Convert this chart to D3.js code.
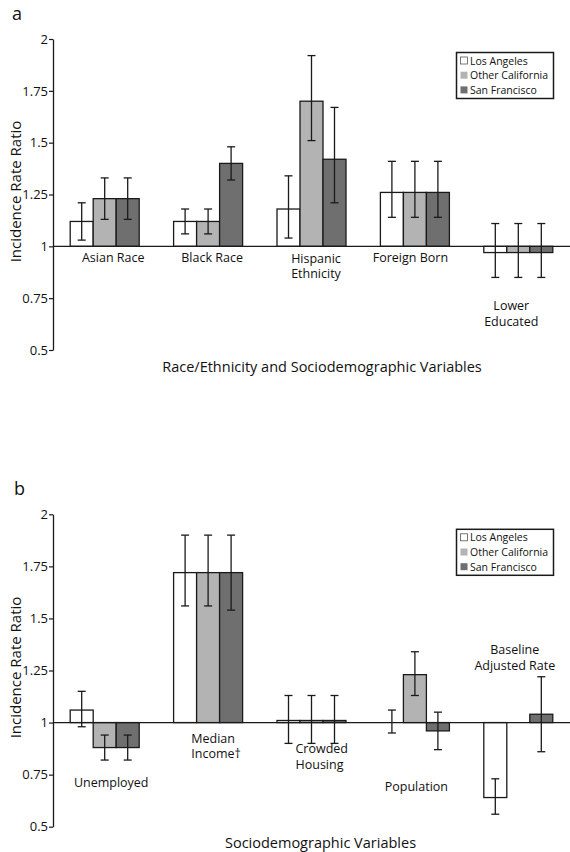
<!DOCTYPE html>
<html><head><meta charset="utf-8">
<script src="https://cdn.jsdelivr.net/npm/d3@7"></script>
<style>
body{margin:0;background:#fff;}
svg text{font-family:"Open Sans",sans-serif;fill:#111;}
</style></head>
<body>
<svg id="chart" width="570" height="852"></svg>
<script>
// ---- data ----
const seriesNames = ["Los Angeles","Other California","San Francisco"];
const seriesColors = ["#ffffff","#b3b3b3","#6f6f6f"];
const yTicks = [0.5,0.75,1,1.25,1.5,1.75,2];
const yTickLabels = ["0.5","0.75","1","1.25","1.5","1.75","2"];

// Panel a
const catsA = ["Asian Race","Black Race","Hispanic Ethnicity","Foreign Born","Lower Educated"];
const laA   = [1.12,1.12,1.18,1.26,0.97];
const ocA   = [1.23,1.12,1.70,1.26,0.97];
const sfA   = [1.23,1.40,1.42,1.26,0.97];
const laLoA = [1.03,1.06,1.04,1.14,0.85];
const laHiA = [1.21,1.18,1.34,1.41,1.11];
const ocLoA = [1.13,1.06,1.51,1.14,0.85];
const ocHiA = [1.33,1.18,1.92,1.41,1.11];
const sfLoA = [1.13,1.32,1.21,1.14,0.85];
const sfHiA = [1.33,1.48,1.67,1.41,1.11];

// Panel b
const catsB = ["Unemployed","Median Income†","Crowded Housing","Population","Baseline Adjusted Rate"];
const laB   = [1.06,1.72,1.01,1.00,0.64];
const ocB   = [0.88,1.72,1.01,1.23,null];
const sfB   = [0.88,1.72,1.01,0.96,1.04];
const laLoB = [0.98,1.56,0.90,0.95,0.56];
const laHiB = [1.15,1.90,1.13,1.06,0.73];
const ocLoB = [0.82,1.56,0.90,1.13,null];
const ocHiB = [0.94,1.90,1.13,1.34,null];
const sfLoB = [0.82,1.54,0.90,0.87,0.86];
const sfHiB = [0.94,1.90,1.13,1.05,1.22];

// ---- drawing ----
const svg = d3.select("#chart");
const INK = "#1a1a1a";

function drawPanel(cfg){
  const g = svg.append("g");
  const y = d3.scaleLinear().domain([0.5,2]).range([cfg.bottom, cfg.top]);
  const x0 = d3.scaleBand().domain(cfg.cats).range([53,570]).padding(0);
  const groupW = 69;
  const x1 = d3.scaleBand().domain(seriesNames).range([0,groupW]).padding(0);
  const vals = [cfg.la, cfg.oc, cfg.sf];
  const lo = [cfg.laLo, cfg.ocLo, cfg.sfLo];
  const hi = [cfg.laHi, cfg.ocHi, cfg.sfHi];

  // panel letter
  g.append("text").attr("x", cfg.letterX).attr("y", cfg.letterY)
    .style("font-size","18px").text(cfg.letter);

  // y axis
  const ax = g.append("g").attr("transform","translate(53,0)")
    .call(d3.axisLeft(y).tickValues(yTicks).tickSize(4).tickSizeOuter(0).tickPadding(1)
      .tickFormat((d,i)=>yTickLabels[i]));
  ax.select(".domain").attr("stroke",INK).attr("stroke-width",1.3);
  ax.selectAll(".tick line").attr("stroke",INK).attr("stroke-width",1.2);
  ax.selectAll(".tick text").style("font-size","13px").style("font-family","'Open Sans',sans-serif").attr("fill","#111");

  g.append("text")
    .attr("transform",`translate(15,${(cfg.top+cfg.bottom)/2 - 3}) rotate(-90)`)
    .attr("text-anchor","middle").attr("dominant-baseline","central")
    .style("font-size","15px").text("Incidence Rate Ratio");

  // bars
  const base = y(1);
  cfg.cats.forEach((c,ci)=>{
    const gx = x0(c) + x0.bandwidth()/2 - groupW/2;
    seriesNames.forEach((s,si)=>{
      const v = vals[si][ci];
      if(v==null) return;
      const bx = gx + x1(s);
      g.append("rect").attr("x",bx).attr("width",x1.bandwidth())
        .attr("y",Math.min(y(v),base)).attr("height",Math.abs(y(v)-base))
        .attr("fill",seriesColors[si]).attr("stroke",INK).attr("stroke-width",1.3);
    });
  });
  // baseline
  g.append("line").attr("x1",53).attr("x2",570).attr("y1",base).attr("y2",base)
    .attr("stroke",INK).attr("stroke-width",1.3);
  // error bars
  cfg.cats.forEach((c,ci)=>{
    const gx = x0(c) + x0.bandwidth()/2 - groupW/2;
    seriesNames.forEach((s,si)=>{
      const l = lo[si][ci], h = hi[si][ci];
      if(l==null||h==null) return;
      const cx = gx + x1(s) + x1.bandwidth()/2;
      const eb = g.append("g").attr("stroke",INK).attr("stroke-width",1.3);
      eb.append("line").attr("x1",cx).attr("x2",cx).attr("y1",y(l)).attr("y2",y(h));
      eb.append("line").attr("x1",cx-4).attr("x2",cx+4).attr("y1",y(l)).attr("y2",y(l));
      eb.append("line").attr("x1",cx-4).attr("x2",cx+4).attr("y1",y(h)).attr("y2",y(h));
    });
  });

  // category labels
  cfg.cats.forEach((c,ci)=>{
    const L = cfg.labelLayout[ci];
    const cx = x0(c) + x0.bandwidth()/2 + L.dx;
    const t = g.append("text").attr("text-anchor",L.anchor||"middle")
      .style("font-size","12.5px");
    L.lines.forEach((ln,li)=>{
      t.append("tspan").attr("x",cx).attr("y",base + L.dy + li*L.lh + 4).text(ln);
    });
  });

  // x title
  g.append("text").attr("x",cfg.titleX).attr("y",cfg.titleY)
    .attr("text-anchor","middle").attr("dominant-baseline","central")
    .style("font-size","14.5px").text(cfg.title);

  // legend
  const lg = g.append("g");
  lg.append("rect").attr("x",456.5).attr("y",cfg.legendY).attr("width",97).attr("height",46)
    .attr("fill","#fff").attr("stroke",INK).attr("stroke-width",1.5);
  seriesNames.forEach((s,si)=>{
    const cy = cfg.legendY + 8 + si*14.7;
    lg.append("rect").attr("x",460.5).attr("y",cy-3.5).attr("width",7).attr("height",7)
      .attr("fill",seriesColors[si]).attr("stroke",si===0?"#555":"none").attr("stroke-width",0.8);
    lg.append("text").attr("x",470).attr("y",cy).attr("dominant-baseline","central")
      .style("font-size","10.5px").text(s);
  });
}

drawPanel({
  letter:"a", letterX:12, letterY:20,
  top:39, bottom:350, cats:catsA,
  la:laA, oc:ocA, sf:sfA, laLo:laLoA, laHi:laHiA, ocLo:ocLoA, ocHi:ocHiA, sfLo:sfLoA, sfHi:sfHiA,
  labelLayout:[
    {dx:8.5, dy:12, lh:15.6, lines:["Asian Race"]},
    {dx:4, dy:12, lh:15.6, lines:["Black Race"]},
    {dx:4.5, dy:12.5, lh:15.6, lines:["Hispanic","Ethnicity"]},
    {dx:-4.5, dy:12, lh:15.6, lines:["Foreign Born"]},
    {dx:-7, dy:59.7, lh:15.6, lines:["Lower","Educated"]}
  ],
  title:"Race/Ethnicity and Sociodemographic Variables", titleX:322, titleY:366,
  legendY:52.5
});

drawPanel({
  letter:"b", letterX:14, letterY:495,
  top:514.3, bottom:826.7, cats:catsB,
  la:laB, oc:ocB, sf:sfB, laLo:laLoB, laHi:laHiB, ocLo:ocLoB, ocHi:ocHiB, sfLo:sfLoB, sfHi:sfHiB,
  labelLayout:[
    {dx:6.5, dy:60.6, lh:15.6, lines:["Unemployed"]},
    {dx:-16.8, dy:16.2, lh:15.6, anchor:"start", lines:["Median","Income†"]},
    {dx:-16, dy:26.9, lh:15.6, anchor:"start", lines:["Crowded","Housing"]},
    {dx:1.5, dy:64.3, lh:15.6, lines:["Population"]},
    {dx:-3.5, dy:-72.3, lh:15.6, lines:["Baseline","Adjusted Rate"]}
  ],
  title:"Sociodemographic Variables", titleX:320.5, titleY:842.5,
  legendY:529.3
});
</script>
</body></html>
